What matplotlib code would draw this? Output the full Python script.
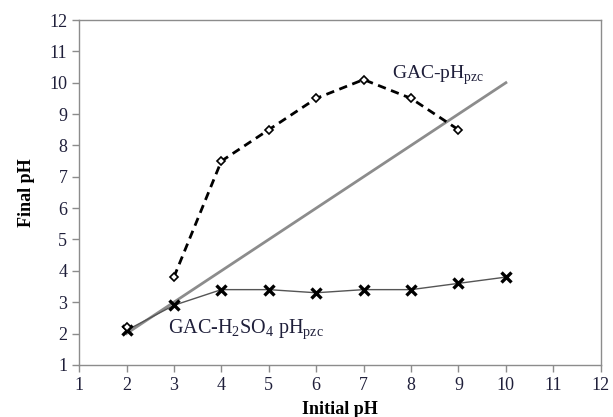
import matplotlib
matplotlib.use("Agg")
import matplotlib.pyplot as plt

plt.rcParams['font.family'] = ['Liberation Serif', 'DejaVu Serif']
plt.rcParams['mathtext.fontset'] = 'custom'
plt.rcParams['mathtext.rm'] = 'Liberation Serif'

# GAC pHpzc (dashed, diamonds)
gac_x = [3, 4, 5, 6, 7, 8, 9]
gac_y = [3.8, 7.5, 8.5, 9.5, 10.1, 9.5, 8.5]
gac_start_x = [2]
gac_start_y = [2.2]

# GAC-H2SO4 pHpzc (solid, crosses)
acid_x = [2, 3, 4, 5, 6, 7, 8, 9, 10]
acid_y = [2.1, 2.9, 3.4, 3.4, 3.3, 3.4, 3.4, 3.6, 3.8]

# reference line initial = final
ref_x = [2, 10]
ref_y = [2, 10]

ticks = list(range(1, 13))

fig = plt.figure(figsize=(6.13, 4.17), dpi=100)
ax = fig.add_axes([0.129, 0.125, 0.851, 0.827])

ax.plot(ref_x, ref_y, color='#8c8c8c', lw=2.0, zorder=1)
ax.plot(acid_x, acid_y, color='#555555', lw=1.0, zorder=2)
ax.plot(acid_x, acid_y, ls='none', marker='x', ms=7, mew=2.4, color='black', zorder=3)
ax.plot(gac_x, gac_y, color='black', lw=2.0, ls=(0, (3, 2)), zorder=2)
ax.plot(gac_x + gac_start_x, gac_y + gac_start_y, ls='none', marker='D', ms=4.5,
        mfc='white', mec='black', mew=1.2, zorder=4)

ax.text(7.6, 10.25, r'GAC-pH$_{\mathrm{pzc}}$', fontsize=14, va='center', ha='left',
        color='#1f1f3a')
ax.text(2.87, 2.13, r'GAC-H$_{2}$SO$_{4}$ pH$_{\mathrm{pzc}}$', fontsize=14.5,
        va='center', ha='left', color='#1f1f3a')

ax.set_xlim(1, 12)
ax.set_ylim(1, 12)
ax.set_xticks(ticks)
ax.set_yticks(ticks)
ax.tick_params(direction='out', length=5, color='#8c8c8c', labelsize=13, width=1,
               labelcolor='#1f1f3a')
for s in ax.spines.values():
    s.set_color('#8c8c8c')
    s.set_linewidth(1.0)

ax.set_xlabel('Initial pH', fontsize=13, fontweight='bold', labelpad=5)
ax.set_ylabel('Final pH', fontsize=13, fontweight='bold', labelpad=10)

fig.savefig('out.png', dpi=100)
